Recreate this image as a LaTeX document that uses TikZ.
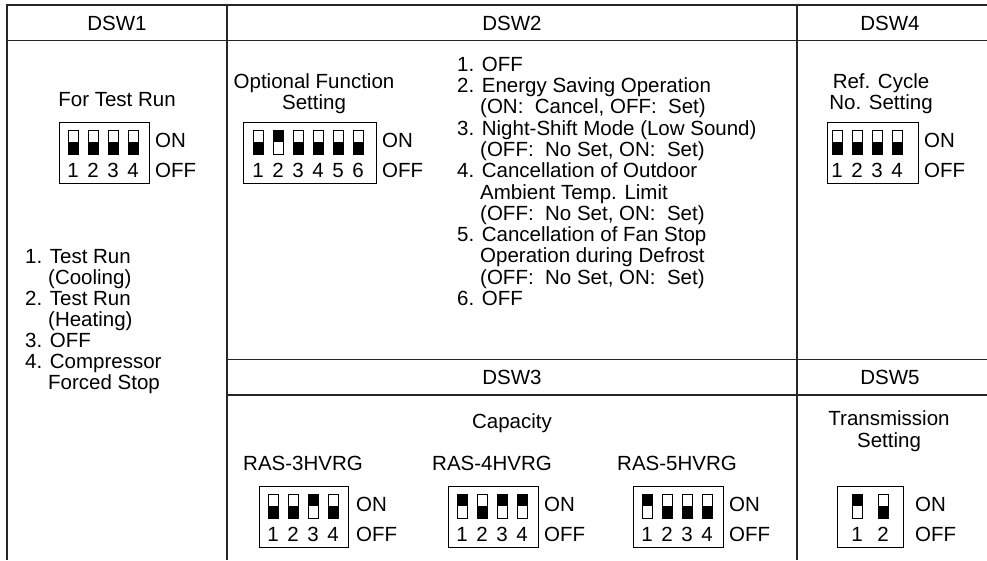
\documentclass[tikz,border=0pt]{standalone}
\usepackage{fontspec}
\setmainfont{Liberation Sans}
\tikzset{
  tline/.style={line width=1.3pt, draw=black!85},
  txt/.style={inner sep=0pt, text height=14.5pt, text depth=0pt, font=\fontsize{20.5}{22}\selectfont},
  lst/.style={txt, anchor=west},
  swbox/.style={draw, line width=1.3pt, inner sep=0pt, anchor=north west, minimum height=61pt},
  swcell/.style={draw, line width=1pt},
}
% #1 name, #2 left, #3 top, #4 width, #5 first offset, #6 spacing, #7 states, #8 ON/OFF gap
\newcommand\dipsw[8]{%
  \node[swbox, minimum width=#4pt] (#1) at (#2,#3) {};
  \foreach \s [count=\i] in {#7} {
    \pgfmathsetmacro\xl{#2+#5+(\i-1)*#6}
    \ifnum\s=1
      \fill (\xl,#3+8) rectangle (\xl+10,#3+20);
    \else
      \fill (\xl,#3+20) rectangle (\xl+10,#3+32);
    \fi
    \draw[swcell] (\xl,#3+8) rectangle (\xl+10,#3+32);
    \node[txt] (#1-n\i) at (\xl+5,#3+48) {\i};
  }
  \node[lst] (#1-on) at (#2+#4+#8,#3+18) {ON};
  \node[lst] (#1-off) at (#2+#4+#8,#3+48) {OFF};
}
\begin{document}
\begin{tikzpicture}[x=1pt,y=-1pt]
\useasboundingbox (0,0) rectangle (987,560);
% table
\draw[tline] (987,5) -- (7,5) -- (7,560);
\draw[tline] (7,40.7) -- (987,40.7);
\draw[tline] (227,5) -- (227,560);
\draw[tline] (797,5) -- (797,560);
\draw[tline] (227,359.5) -- (987,359.5);
\draw[tline] (227,395) -- (987,395);
% headers
\node[txt] (h1) at (117,22.8) {DSW1};
\node[txt] (h2) at (512,22.8) {DSW2};
\node[txt] (h4) at (890,22.8) {DSW4};
\node[txt] (h3) at (512,377.3) {DSW3};
\node[txt] (h5) at (890,377.3) {DSW5};
% DSW1
\node[txt] (t1) at (117,99) {For Test Run};
\dipsw{s1}{59}{122}{90}{9}{20}{0,0,0,0}{6}
\foreach \t/\xx [count=\k from 0] in {{1. Test Run}/25,{(Cooling)}/48,{2. Test Run}/25,{(Heating)}/48,{3. OFF}/25,{4. Compressor}/25,{Forced Stop}/48}
  \node[lst] (l1-\k) at (\xx,256+21*\k) {\t};
% DSW2
\node[txt] (t2a) at (314,81) {Optional Function};
\node[txt] (t2b) at (314,102) {Setting};
\dipsw{s2}{243}{122}{133}{10}{20}{0,1,0,0,0,0}{6}
\foreach \t/\xx [count=\k from 0] in {{1. OFF}/457,{2. Energy Saving Operation}/457,{(ON:\ \ Cancel, OFF:\ \ Set)}/480,{3. Night-Shift Mode (Low Sound)}/457,{(OFF:\ \ No Set, ON:\ \ Set)}/480,{4. Cancellation of Outdoor}/457,{Ambient Temp. Limit}/480,{(OFF:\ \ No Set, ON:\ \ Set)}/480,{5. Cancellation of Fan Stop}/457,{Operation during Defrost}/480,{(OFF:\ \ No Set, ON:\ \ Set)}/480,{6. OFF}/457}
  \node[lst] (l2-\k) at (\xx,64+21.3*\k) {\t};
% DSW4
\node[txt] (t4a) at (881,81) {Ref. Cycle};
\node[txt] (t4b) at (881,102) {No. Setting};
\dipsw{s4}{827}{122}{91}{5}{20}{0,0,0,0}{6}
% DSW3
\node[txt] (t3) at (512,421) {Capacity};
\node[lst] (r3) at (243,463) {RAS-3HVRG};
\node[lst] (r4) at (432,463) {RAS-4HVRG};
\node[lst] (r5) at (617,463) {RAS-5HVRG};
\dipsw{sa}{259}{486}{89}{9}{20}{0,0,1,0}{8}
\dipsw{sb}{448}{486}{90}{9}{20}{1,0,1,1}{6}
\dipsw{sc}{633}{486}{90}{9}{20}{1,0,0,0}{6}
% DSW5
\node[txt] (t5a) at (889,418) {Transmission};
\node[txt] (t5b) at (889,440) {Setting};
\dipsw{s5}{837}{486}{66}{15}{26}{1,0}{12}
\end{tikzpicture}
\end{document}
